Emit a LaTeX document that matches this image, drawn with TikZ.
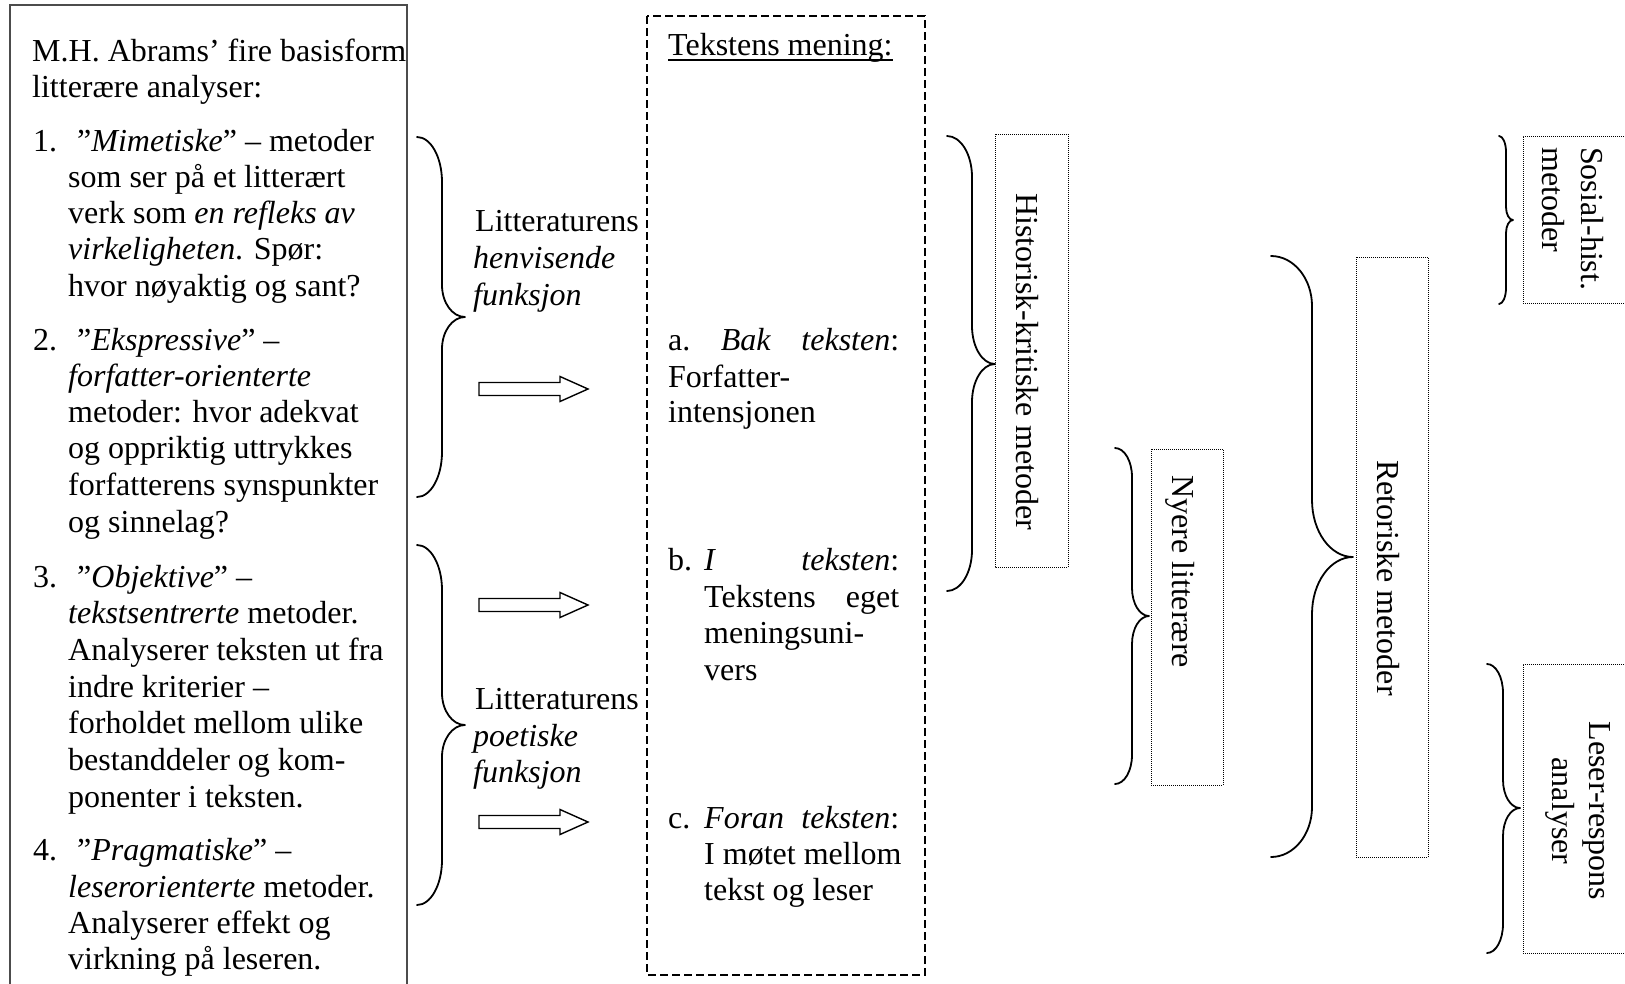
\documentclass[tikz,border=0pt]{standalone}
\usepackage{fontspec}
\setmainfont{Liberation Serif}
\newcommand\fsz{\fontsize{32}{36.5}\selectfont}
\newcommand\wbrace[8]{%
 \draw[brc] (#1,#4) .. controls ({#1+0.552*(#2-#1)},#4) and (#2,{#4+0.448*#7}) .. (#2,{#4+#7})
  -- (#2,{#5-#8}) .. controls (#2,{#5-0.448*#8}) and ({#3-0.552*(#3-#2)},#5) .. (#3,#5)
  .. controls ({#3-0.552*(#3-#2)},#5) and (#2,{#5+0.448*#8}) .. (#2,{#5+#8})
  -- (#2,{#6-#7}) .. controls (#2,{#6-0.448*#7}) and ({#1+0.552*(#2-#1)},#6) .. (#1,#6);}
\newcommand\barrow[1]{\draw[blockarrow] (479,{#1-6.5}) -- (560,{#1-6.5}) -- (560,{#1-12.5}) -- (588,#1) -- (560,{#1+12.5}) -- (560,{#1+6.5}) -- (479,{#1+6.5}) -- cycle;}
\begin{document}
\begin{tikzpicture}[x=1pt,y=-1pt,
  txt/.style={inner sep=0pt, anchor=base west, font=\fsz},
  vtxt/.style={inner sep=0pt, rotate=-90, font=\fsz},
  brc/.style={line width=1.8pt, line join=round, line cap=round},
  dotbox/.style={line width=0.9pt, dash pattern=on 1pt off 1pt},
  dashbox/.style={line width=1.1pt, dash pattern=on 8pt off 4pt},
  frame/.style={line width=2pt, draw=black!70},
  blockarrow/.style={line width=1.4pt, line join=miter}]
\useasboundingbox (0,0) rectangle (1625,983);
% left framed box
\draw[frame] (10,995) -- (10,5) -- (407,5) -- (407,995);
\begin{scope}
\clip (11,6) rectangle (406,983);
\node[txt] (t0) at (32,61) {M.H. Abrams’ fire basisformer for};
\node[txt] (t1) at (32,97.5) {litterære analyser:};
\node[txt] (n1) at (33,151) {1.};
\node[txt] (i1a) at (77,151) {”\textit{Mimetiske}” – metoder};
\node[txt] (i1b) at (68,187) {som ser på et litterært};
\node[txt] (i1c) at (68,223) {verk som \textit{en refleks av}};
\node[txt] (i1d) at (68,259) {\textit{virkeligheten}. Spør:};
\node[txt] (i1e) at (68,296) {hvor nøyaktig og sant?};
\node[txt] (n2) at (33,350) {2.};
\node[txt] (i2a) at (77,350) {”\textit{Ekspressive}” –};
\node[txt] (i2b) at (68,386) {\textit{forfatter-orienterte}};
\node[txt] (i2c) at (68,422) {metoder: hvor adekvat};
\node[txt] (i2d) at (68,458) {og oppriktig uttrykkes};
\node[txt] (i2e) at (68,495) {forfatterens synspunkter};
\node[txt] (i2f) at (68,532) {og sinnelag?};
\node[txt] (n3) at (33,587) {3.};
\node[txt] (i3a) at (77,587) {”\textit{Objektive}” –};
\node[txt] (i3b) at (68,623) {\textit{tekstsentrerte} metoder.};
\node[txt] (i3c) at (68,660) {Analyserer teksten ut fra};
\node[txt] (i3d) at (68,697) {indre kriterier –};
\node[txt] (i3e) at (68,733) {forholdet mellom ulike};
\node[txt] (i3f) at (68,770) {bestanddeler og kom-};
\node[txt] (i3g) at (68,807) {ponenter i teksten.};
\node[txt] (n4) at (33,860) {4.};
\node[txt] (i4a) at (77,860) {”\textit{Pragmatiske}” –};
\node[txt] (i4b) at (68,897) {\textit{leserorienterte} metoder.};
\node[txt] (i4c) at (68,933) {Analyserer effekt og};
\node[txt] (i4d) at (68,969) {virkning på leseren.};
\end{scope}
% left braces and labels
\wbrace{417}{442}{465}{137}{317}{497}{45}{32}
\wbrace{417}{442}{465}{545}{725}{905}{45}{32}
\node[txt] (h1) at (475,231) {Litteraturens};
\node[txt] (h2) at (473,268) {\textit{henvisende}};
\node[txt] (h3) at (473,305) {\textit{funksjon}};
\node[txt] (p1) at (475,709) {Litteraturens};
\node[txt] (p2) at (473,746) {\textit{poetiske}};
\node[txt] (p3) at (473,782) {\textit{funksjon}};
\barrow{389}
\barrow{605}
\barrow{822}
% dashed box
\draw[dashbox] (647,16) rectangle (925,975);
\node[txt] (tm) at (668,55) {Tekstens mening:};
\draw[line width=1.3pt] ([yshift=-5pt]tm.base west) -- ([yshift=-5pt]tm.base east);
\node[txt] (a1) at (668,350) {\makebox[231pt][s]{a.\hfill\textit{Bak}\hfill\textit{teksten}:}};
\node[txt] (a2) at (668,387) {Forfatter-};
\node[txt] (a3) at (668,422) {intensjonen};
\node[txt] (b0) at (668,570) {b.};
\node[txt] (b1) at (704,570) {\makebox[195pt][s]{\textit{I}\hfill\textit{teksten}:}};
\node[txt] (b2) at (704,607) {\makebox[195pt][s]{Tekstens\hfill eget}};
\node[txt] (b3) at (704,643) {meningsuni-};
\node[txt] (b4) at (704,680) {vers};
\node[txt] (c0) at (668,828) {c.};
\node[txt] (c1) at (704,828) {\makebox[195pt][s]{\textit{Foran}\hfill\textit{teksten}:}};
\node[txt] (c2) at (704,864) {I møtet mellom};
\node[txt] (c3) at (704,900) {tekst og leser};
% right side
\wbrace{947}{972}{995}{136}{364}{591}{41}{38}
\draw[dotbox] (995,134) rectangle (1068,567);
\node[vtxt, anchor=base west] (hk) at (1016,193) {Historisk-kritiske metoder};
\wbrace{1115}{1132}{1149}{448}{616}{784}{29}{28}
\draw[dotbox] (1151,449) rectangle (1223,785);
\node[vtxt, anchor=base west] (nl) at (1172,475) {Nyere litterære};
\wbrace{1271}{1312}{1353}{256}{557}{857}{50}{57}
\draw[dotbox] (1356,257) rectangle (1428,857);
\node[vtxt, anchor=base west] (rm) at (1377,460) {Retoriske metoder};
\wbrace{1499}{1506}{1513}{136}{220}{304}{16}{13}
\draw[dotbox] (1640,136) -- (1523,136) -- (1523,303) -- (1640,303);
\node[vtxt, anchor=base west] (s1) at (1581,147) {Sosial-hist.};
\node[vtxt, anchor=base west] (s2) at (1542,147) {metoder};
\wbrace{1487}{1503}{1520}{664}{808}{953}{29}{28}
\draw[dotbox] (1640,664) -- (1523,664) -- (1523,953) -- (1640,953);
\node[vtxt, anchor=base] (l1) at (1589,811) {Leser-respons};
\node[vtxt, anchor=base] (l2) at (1552,811) {analyser};
\end{tikzpicture}
\end{document}
